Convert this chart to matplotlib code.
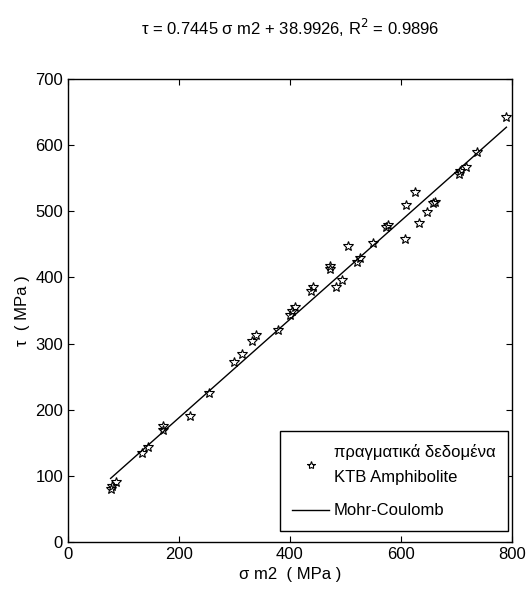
import numpy as np
import matplotlib
matplotlib.use("Agg")
import matplotlib.pyplot as plt

plt.rcParams['font.family'] = ['Liberation Sans', 'DejaVu Sans']

sigma_m2 = [76.8, 78.6, 86.4, 132.6, 144.6, 171.6, 171.6, 219.6, 253.8, 298.8,
            313.2, 332.4, 339.6, 378.6, 400.8, 404.4, 409.5, 437.0, 442.0, 471.6,
            472.5, 482.4, 493.5, 504.6, 520.8, 526.8, 549.6, 573.6, 576.6, 606.6,
            608.4, 625.8, 631.8, 647.4, 657.6, 660.6, 704.4, 707.0, 716.4, 736.8,
            788.4]
tau = [79.5, 84.0, 90.0, 134.5, 144.0, 175.0, 169.0, 190.5, 225.0, 272.0,
       284.5, 303.6, 313.0, 321.0, 343.0, 349.0, 355.0, 379.0, 386.0, 413.0,
       417.0, 385.5, 396.4, 448.0, 423.0, 430.0, 452.0, 476.5, 479.0, 458.5,
       509.5, 529.0, 482.5, 499.5, 512.0, 514.0, 556.0, 561.0, 567.0, 589.0,
       642.0]

slope = 0.7445
intercept = 38.9926
r2 = 0.9896

fig = plt.figure(figsize=(5.29, 6.13), dpi=100)
ax = fig.add_axes([0.1285, 0.1158, 0.8393, 0.7553])

ax.plot(sigma_m2, tau, linestyle='none', marker='*', markersize=7.5,
        markerfacecolor='none', markeredgecolor='k', markeredgewidth=0.8,
        label='πραγματικά δεδομένα\nKTB Amphibolite')

xl = np.array([min(sigma_m2), 790.0])
ax.plot(xl, slope * xl + intercept, color='k', linewidth=1.0, label='Mohr-Coulomb')

ax.set_xlim(0, 800)
ax.set_ylim(0, 700)
ax.set_xticks([0, 200, 400, 600, 800])
ax.set_yticks([0, 100, 200, 300, 400, 500, 600, 700])
ax.tick_params(direction='in', length=4, top=True, right=True, labelsize=12, width=0.8)
for s in ax.spines.values():
    s.set_linewidth(1.0)

ax.set_xlabel('σ m2  ( MPa )', fontsize=12)
ax.set_ylabel('τ  ( MPa )', fontsize=12)
ax.set_title('τ = 0.7445 σ m2 + 38.9926, R$^{2}$ = 0.9896', fontsize=12, pad=32)

leg = ax.legend(loc='lower right', bbox_to_anchor=(0.991, 0.024), borderaxespad=0,
                fontsize=12, frameon=True, fancybox=False,
                edgecolor='k', framealpha=1, handlelength=2.2,
                handletextpad=0.3, labelspacing=1.1, borderpad=0.75, markerscale=0.8)
leg.get_frame().set_linewidth(1.0)
for t in leg.get_texts():
    t.set_linespacing(1.85)

fig.savefig('out.png', dpi=100)
